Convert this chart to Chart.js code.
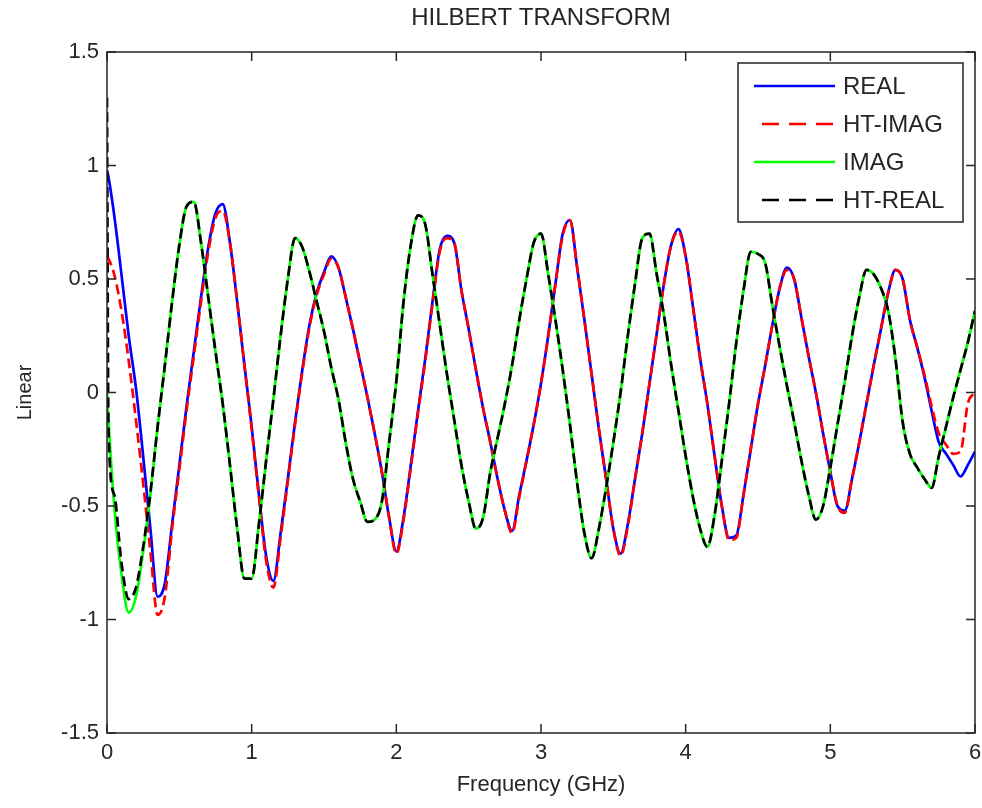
<!DOCTYPE html>
<html>
<head>
<meta charset="utf-8">
<title>Hilbert Transform</title>
<script src="https://cdn.jsdelivr.net/npm/chart.js@4.4.1/dist/chart.umd.min.js"></script>
<style>
    html, body { margin: 0; padding: 0; background: #fff; }
    #wrap { position: relative; width: 982px; height: 808px; }
</style>
</head>
<body>
<div id="wrap"><canvas id="chart"></canvas></div>
<script>
// Frequency samples (GHz)
const freq = [
    0, 0.01, 0.05, 0.1, 0.15, 0.2, 0.25, 0.3, 0.35, 0.4, 0.45, 0.5, 0.55, 0.6, 0.65, 0.7, 0.75, 0.8, 0.85, 0.9, 0.95,
    1, 1.05, 1.1, 1.15, 1.2, 1.25, 1.3, 1.35, 1.4, 1.45, 1.5, 1.55, 1.6, 1.65, 1.7, 1.75, 1.8, 1.85, 1.9, 1.95,
    2, 2.05, 2.1, 2.15, 2.2, 2.25, 2.3, 2.35, 2.4, 2.45, 2.5, 2.55, 2.6, 2.65, 2.7, 2.75, 2.8, 2.85, 2.9, 2.95,
    3, 3.05, 3.1, 3.15, 3.2, 3.25, 3.3, 3.35, 3.4, 3.45, 3.5, 3.55, 3.6, 3.65, 3.7, 3.75, 3.8, 3.85, 3.9, 3.95,
    4, 4.05, 4.1, 4.15, 4.2, 4.25, 4.3, 4.35, 4.4, 4.45, 4.5, 4.55, 4.6, 4.65, 4.7, 4.75, 4.8, 4.85, 4.9, 4.95,
    5, 5.05, 5.1, 5.15, 5.2, 5.25, 5.3, 5.35, 5.4, 5.45, 5.5, 5.55, 5.6, 5.65, 5.7, 5.75, 5.8, 5.85, 5.9, 5.95, 6
];

const real = [
    0.98, 0.95, 0.78, 0.52, 0.25, 0.02, -0.28, -0.60, -0.90, -0.84, -0.58, -0.32, -0.06, 0.18, 0.42, 0.64, 0.79, 0.83, 0.66, 0.40, 0.12,
    -0.15, -0.45, -0.72, -0.83, -0.62, -0.38, -0.13, 0.10, 0.30, 0.44, 0.53, 0.60, 0.55, 0.42, 0.28, 0.13, -0.02, -0.18, -0.35, -0.55,
    -0.70, -0.55, -0.32, -0.08, 0.15, 0.40, 0.63, 0.69, 0.66, 0.45, 0.28, 0.10, -0.07, -0.22, -0.38, -0.52, -0.61, -0.45, -0.30, -0.14,
    0.04, 0.25, 0.48, 0.70, 0.76, 0.55, 0.32, 0.08, -0.16, -0.38, -0.60, -0.71, -0.58, -0.38, -0.18, 0.04, 0.26, 0.48, 0.65, 0.72,
    0.60, 0.38, 0.15, -0.05, -0.28, -0.50, -0.64, -0.63, -0.45, -0.25, -0.05, 0.12, 0.30, 0.46, 0.55, 0.50, 0.33, 0.16, 0.00, -0.18,
    -0.35, -0.50, -0.52, -0.38, -0.22, -0.05, 0.12, 0.28, 0.44, 0.54, 0.50, 0.32, 0.20, 0.07, -0.08, -0.22, -0.27, -0.32, -0.37, -0.32, -0.26
];

const htImag = [
    0.60, 0.59, 0.52, 0.36, 0.14, -0.12, -0.40, -0.70, -0.98, -0.90, -0.60, -0.34, -0.08, 0.16, 0.40, 0.62, 0.77, 0.80, 0.66, 0.40, 0.12,
    -0.16, -0.46, -0.74, -0.86, -0.64, -0.39, -0.14, 0.09, 0.29, 0.43, 0.52, 0.59, 0.55, 0.42, 0.28, 0.13, -0.02, -0.18, -0.35, -0.55,
    -0.71, -0.56, -0.33, -0.09, 0.14, 0.39, 0.62, 0.68, 0.66, 0.45, 0.28, 0.10, -0.07, -0.22, -0.38, -0.52, -0.62, -0.46, -0.30, -0.14,
    0.04, 0.25, 0.48, 0.69, 0.76, 0.55, 0.32, 0.08, -0.16, -0.38, -0.60, -0.72, -0.59, -0.38, -0.18, 0.04, 0.26, 0.48, 0.65, 0.71,
    0.60, 0.38, 0.15, -0.05, -0.28, -0.50, -0.65, -0.64, -0.45, -0.25, -0.05, 0.12, 0.30, 0.46, 0.54, 0.50, 0.33, 0.16, 0.00, -0.18,
    -0.35, -0.50, -0.53, -0.38, -0.22, -0.05, 0.12, 0.28, 0.44, 0.54, 0.50, 0.32, 0.20, 0.08, -0.06, -0.18, -0.23, -0.27, -0.26, -0.05, 0.00
];

const imag = [
    0.00, -0.12, -0.50, -0.80, -0.97, -0.90, -0.70, -0.45, -0.15, 0.12, 0.40, 0.65, 0.82, 0.84, 0.66, 0.42, 0.18, -0.05, -0.32, -0.60, -0.82,
    -0.82, -0.58, -0.30, -0.03, 0.25, 0.50, 0.68, 0.64, 0.53, 0.40, 0.27, 0.11, -0.03, -0.22, -0.38, -0.48, -0.57, -0.56, -0.48, -0.22,
    0.05, 0.40, 0.65, 0.78, 0.74, 0.52, 0.30, 0.08, -0.12, -0.32, -0.48, -0.60, -0.55, -0.35, -0.20, -0.05, 0.12, 0.32, 0.50, 0.66,
    0.70, 0.52, 0.32, 0.10, -0.14, -0.40, -0.62, -0.73, -0.60, -0.42, -0.22, 0.00, 0.25, 0.48, 0.68, 0.70, 0.52, 0.34, 0.12, -0.08,
    -0.28, -0.46, -0.60, -0.68, -0.54, -0.30, -0.05, 0.22, 0.45, 0.62, 0.61, 0.57, 0.38, 0.20, 0.03, -0.13, -0.30, -0.45, -0.56, -0.50,
    -0.33, -0.14, 0.05, 0.25, 0.42, 0.54, 0.52, 0.46, 0.36, 0.15, -0.13, -0.27, -0.33, -0.38, -0.42, -0.28, -0.15, -0.02, 0.10, 0.22, 0.36
];

const htReal = [
    1.30, -0.15, -0.45, -0.75, -0.91, -0.86, -0.68, -0.44, -0.15, 0.12, 0.40, 0.65, 0.82, 0.84, 0.66, 0.42, 0.18, -0.05, -0.32, -0.60, -0.82,
    -0.82, -0.58, -0.30, -0.03, 0.25, 0.50, 0.68, 0.64, 0.53, 0.40, 0.27, 0.11, -0.03, -0.22, -0.38, -0.48, -0.57, -0.56, -0.48, -0.22,
    0.05, 0.40, 0.65, 0.78, 0.74, 0.52, 0.30, 0.08, -0.12, -0.32, -0.48, -0.60, -0.55, -0.35, -0.20, -0.05, 0.12, 0.32, 0.50, 0.66,
    0.70, 0.52, 0.32, 0.10, -0.14, -0.40, -0.62, -0.73, -0.60, -0.42, -0.22, 0.00, 0.25, 0.48, 0.68, 0.70, 0.52, 0.34, 0.12, -0.08,
    -0.28, -0.46, -0.60, -0.68, -0.54, -0.30, -0.05, 0.22, 0.45, 0.62, 0.61, 0.57, 0.38, 0.20, 0.03, -0.13, -0.30, -0.45, -0.56, -0.50,
    -0.33, -0.14, 0.05, 0.25, 0.42, 0.54, 0.52, 0.46, 0.36, 0.15, -0.13, -0.27, -0.33, -0.38, -0.42, -0.28, -0.15, -0.02, 0.10, 0.22, 0.36
];

const seriesNames = ["REAL", "HT-IMAG", "IMAG", "HT-REAL"];
const xTickValues = [0, 1, 2, 3, 4, 5, 6];
const xTickLabels = ["0", "1", "2", "3", "4", "5", "6"];
const yTickValues = [-1.5, -1, -0.5, 0, 0.5, 1, 1.5];
const yTickLabels = ["-1.5", "-1", "-0.5", "0", "0.5", "1", "1.5"];

const FONT = "'Liberation Sans', Arial, sans-serif";
const TEXT = "#262626";
const CURVE_DASH = [10, 5];
const LEGEND_DASH = [17, 10];

function points(values) {
    return freq.map((f, i) => ({ x: f, y: values[i] }));
}

function series(label, values, color, dashed, order) {
    return {
        label,
        data: points(values),
        borderColor: color,
        borderWidth: 2.7,
        borderDash: dashed ? CURVE_DASH : [],
        pointRadius: 0,
        cubicInterpolationMode: "monotone",
        fill: false,
        order,
        dashed,
    };
}

// keep the plot box edges where they belong, regardless of label overhang
function noSidePadding(s) {
    s.paddingLeft = 0;
    s.paddingRight = 0;
}

// Axes box with inward ticks on all four sides, plus legend box in the upper right
const matlabFrame = {
    id: "matlabFrame",
    afterDraw(chart) {
        const { ctx, chartArea: a, scales } = chart;
        const tick = 9;
        ctx.save();
        ctx.strokeStyle = TEXT;
        ctx.lineWidth = 1.5;
        ctx.setLineDash([]);
        ctx.strokeRect(a.left, a.top, a.right - a.left, a.bottom - a.top);

        ctx.beginPath();
        xTickValues.forEach(v => {
            const px = scales.x.getPixelForValue(v);
            ctx.moveTo(px, a.bottom); ctx.lineTo(px, a.bottom - tick);
            ctx.moveTo(px, a.top); ctx.lineTo(px, a.top + tick);
        });
        yTickValues.forEach(v => {
            const py = scales.y.getPixelForValue(v);
            ctx.moveTo(a.left, py); ctx.lineTo(a.left + tick, py);
            ctx.moveTo(a.right, py); ctx.lineTo(a.right - tick, py);
        });
        ctx.stroke();

        // legend
        const boxW = 225, boxH = 159;
        const bx = a.right - 12 - boxW;
        const by = a.top + 11;
        ctx.fillStyle = "#fff";
        ctx.fillRect(bx, by, boxW, boxH);
        ctx.strokeRect(bx, by, boxW, boxH);

        ctx.font = "24px " + FONT;
        ctx.textBaseline = "middle";
        ctx.textAlign = "left";
        chart.data.datasets.forEach((ds, i) => {
            const rowY = by + 23 + i * 38;
            ctx.strokeStyle = ds.borderColor;
            ctx.lineWidth = 2.7;
            ctx.setLineDash(ds.dashed ? LEGEND_DASH : []);
            ctx.beginPath();
            ctx.moveTo(bx + (ds.dashed ? 24 : 16), rowY);
            ctx.lineTo(bx + 97, rowY);
            ctx.stroke();
            ctx.fillStyle = TEXT;
            ctx.fillText(ds.label, bx + 105, rowY + 1);
        });
        ctx.restore();
    }
};

new Chart(document.getElementById("chart"), {
    type: "line",
    data: {
        datasets: [
            series(seriesNames[0], real, "#0000ff", false, 4),
            series(seriesNames[1], htImag, "#ff0000", true, 3),
            series(seriesNames[2], imag, "#00ff00", false, 2),
            series(seriesNames[3], htReal, "#000000", true, 1),
        ],
    },
    options: {
        responsive: true,
        maintainAspectRatio: false,
        animation: false,
        layout: { padding: { left: 0, right: 7, top: 0, bottom: 0 } },
        plugins: {
            legend: { display: false },
            tooltip: { enabled: false },
        },
        scales: {
            // top axis only carries the title, centred over the plot box
            top: {
                type: "linear",
                position: "top",
                min: 0,
                max: 6,
                grid: { display: false, drawTicks: false },
                border: { display: false },
                ticks: { display: false },
                title: {
                    display: true,
                    text: "HILBERT TRANSFORM",
                    color: TEXT,
                    font: { family: FONT, size: 24 },
                    padding: { top: 4, bottom: 0 },
                },
                afterFit: s => { s.height = 52; noSidePadding(s); },
            },
            x: {
                type: "linear",
                position: "bottom",
                min: 0,
                max: 6,
                grid: { display: false, drawTicks: false },
                border: { display: false },
                afterBuildTicks: s => { s.ticks = xTickValues.map(v => ({ value: v })); },
                ticks: {
                    padding: 7,
                    color: TEXT,
                    font: { family: FONT, size: 22 },
                    maxRotation: 0,
                    callback: (v, i) => xTickLabels[i],
                },
                title: {
                    display: true,
                    text: "Frequency (GHz)",
                    color: TEXT,
                    font: { family: FONT, size: 22 },
                    padding: { top: 0, bottom: 10 },
                },
                afterFit: s => { s.height = 75; noSidePadding(s); },
            },
            y: {
                type: "linear",
                min: -1.5,
                max: 1.5,
                grid: { display: false, drawTicks: false },
                border: { display: false },
                afterBuildTicks: s => { s.ticks = yTickValues.map(v => ({ value: v })); },
                ticks: {
                    padding: 8,
                    color: TEXT,
                    font: { family: FONT, size: 22 },
                    callback: (v, i) => yTickLabels[i],
                },
                title: {
                    display: true,
                    text: "Linear",
                    color: TEXT,
                    font: { family: FONT, size: 20 },
                    padding: { top: 13, bottom: 0 },
                },
                afterFit: s => { s.width = 107; },
            },
        },
    },
    plugins: [matlabFrame],
});
</script>
</body>
</html>
